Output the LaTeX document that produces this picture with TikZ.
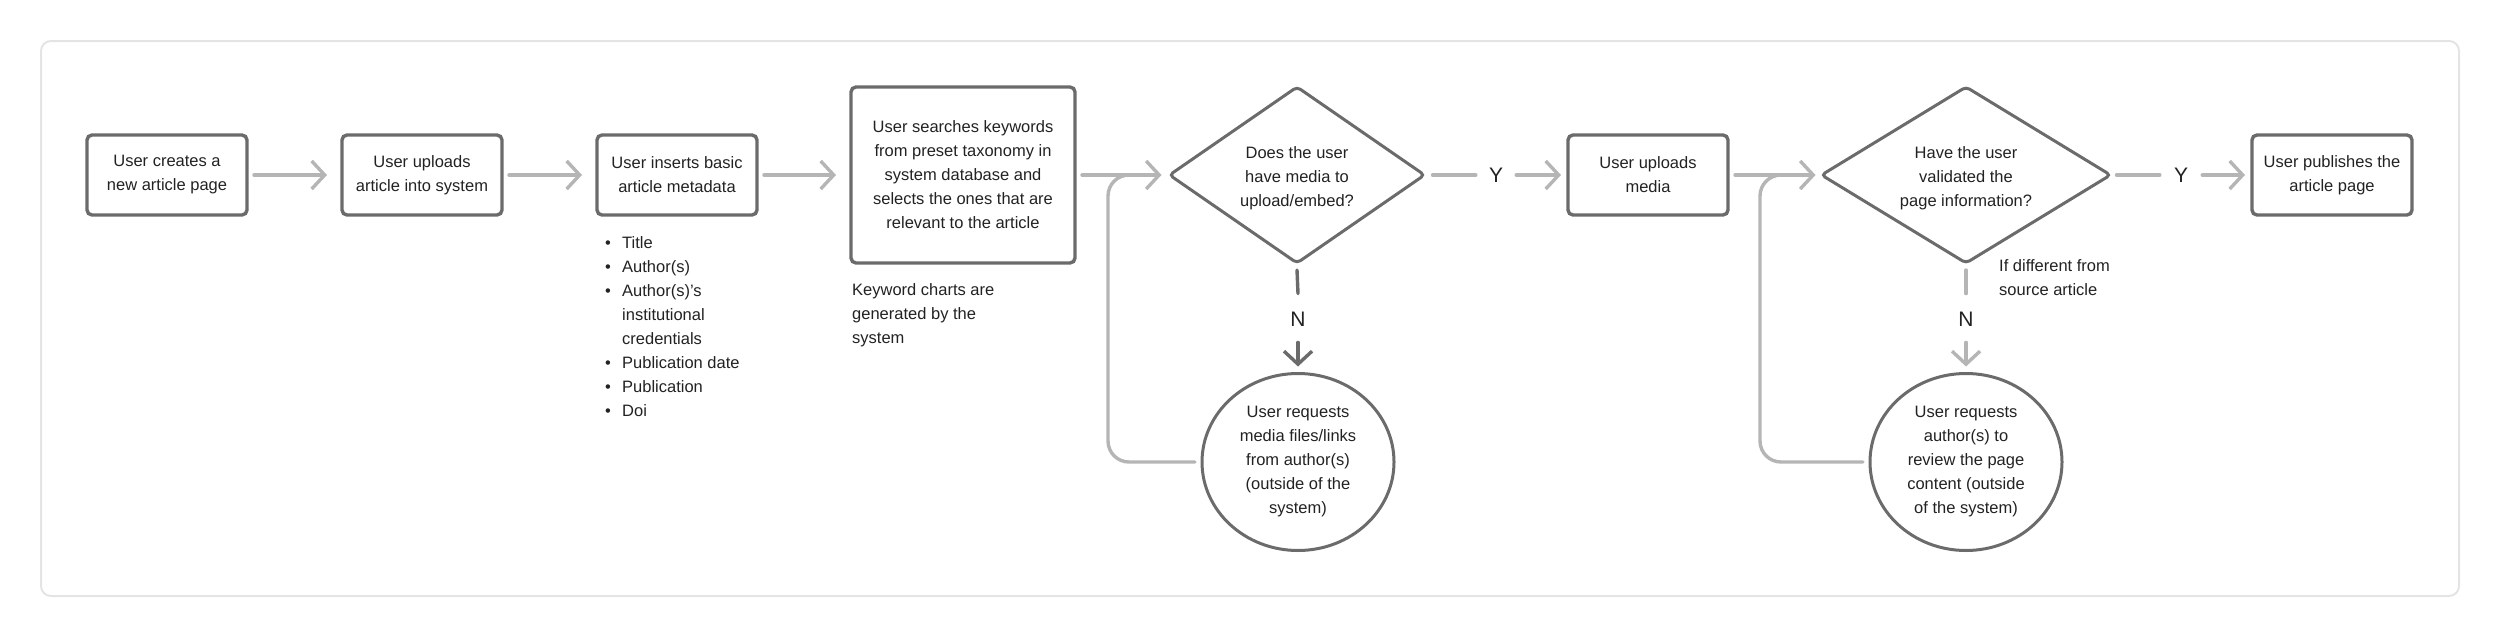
\documentclass[tikz,border=0pt]{standalone}
\usepackage{fontspec}
\setmainfont{Liberation Sans}
\usetikzlibrary{shapes.geometric,arrows.meta,calc}
\definecolor{edgecol}{HTML}{6B6B6B}
\definecolor{conncol}{HTML}{B5B5B5}
\definecolor{framecol}{HTML}{E4E4E4}
\definecolor{ink}{HTML}{222222}
\newcommand\mybul{\makebox[17pt][l]{\textbullet}}
\newcommand\myind{\hspace*{17pt}}
\begin{document}
\begin{tikzpicture}[x=1pt,y=-1pt,
  txt/.style={font=\fontsize{16.5}{24}\selectfont, text=ink},
  stepbox/.style={txt, draw=edgecol, line width=3.4pt, rounded corners=5pt, align=center, inner sep=0pt, outer sep=0pt, minimum width=160pt, minimum height=80pt},
  decision/.style={draw=edgecol, line width=3pt, diamond, rounded corners=4pt, inner sep=0pt, outer sep=0pt, minimum height=176pt},
  dtext/.style={txt, align=center, inner sep=0pt},
  oval/.style={txt, draw=edgecol, line width=3pt, ellipse, align=center, inner sep=0pt, outer sep=0pt, minimum width=192pt, minimum height=177pt},
  link/.style={draw=conncol, line width=3.4pt, line cap=round},
  arr/.style={link, -{Straight Barb[length=13pt,width=28pt]}},
  yn/.style={font=\fontsize{21}{24}\selectfont, text=ink, inner sep=0pt},
  note/.style={txt, align=left, inner sep=0pt, anchor=base west}
]
\useasboundingbox (0,0) rectangle (2500,637);
\draw[framecol, line width=2pt, rounded corners=10pt] (41,41) rectangle (2459,596);

% process boxes
\node[stepbox] (b1) at (167,175) {User creates a\\new article page};
\node[stepbox] (b2) at (422,175) {User uploads\\article into system};
\node[stepbox] (b3) at (677,175) {User inserts basic\\article metadata};
\node[stepbox, minimum width=224pt, minimum height=176pt] (b4) at (963,175) {User searches keywords\\from preset taxonomy in\\system database and\\selects the ones that are\\relevant to the article};
\node[decision, minimum width=255pt] (d1) at (1297,175) {};
\node[dtext] (d1t) at ($(d1.center)+(0,3)$) {Does the user\\have media to\\upload/embed?};
\node[stepbox] (b5) at (1648,175) {User uploads\\media};
\node[decision, minimum width=289pt] (d2) at (1966,175) {};
\node[dtext] (d2t) at ($(d2.center)+(0,3)$) {Have the user\\validated the\\page information?};
\node[stepbox] (b6) at (2332,175) {User publishes the\\article page};
\node[oval] (c1) at (1298,462) {User requests\\media files/links\\from author(s)\\(outside of the\\system)};
\node[oval] (c2) at (1966,462) {User requests\\author(s) to\\review the page\\content (outside\\of the system)};

% notes (base anchor = baseline of last line)
\node[note] (meta) at (605,416) {\mybul Title\\\mybul Author(s)\\\mybul Author(s)’s\\\myind institutional\\\myind credentials\\\mybul Publication date\\\mybul Publication\\\mybul Doi};
\node[note] (kw) at (852,343) {Keyword charts are\\generated by the\\system};
\node[note] (df) at (1999,295) {If different from\\source article};

% Y / N labels
\node[yn] (y1) at (1496,175) {Y};
\node[yn] (y2) at (2181,175) {Y};
\node[yn] (n1) at (1298,319) {N};
\node[yn] (n2) at (1966,319) {N};

% connectors
\draw[arr] ($(b1.east)+(7,0)$) -- ($(b2.west)+(-15,0)$);
\draw[arr] ($(b2.east)+(7,0)$) -- ($(b3.west)+(-15,0)$);
\draw[arr] ($(b3.east)+(7,0)$) -- ($(b4.west)+(-15,0)$);
\draw[arr] ($(b4.east)+(7,0)$) -- ($(d1.west)+(-8,0)$);
\draw[link] ($(d1.east)+(8,0)$) -- ($(y1.west)+(-13,0)$);
\draw[arr] ($(y1.east)+(13,0)$) -- ($(b5.west)+(-7,0)$);
\draw[arr] ($(b5.east)+(7,0)$) -- ($(d2.west)+(-6,0)$);
\draw[link] ($(d2.east)+(6,0)$) -- ($(y2.west)+(-14,0)$);
\draw[arr] ($(y2.east)+(14,0)$) -- ($(b6.west)+(-7,0)$);

\draw[link, draw=edgecol] ($(d1.south)+(0,7)$) -- ($(n1.north)+(0,-18)$);
\draw[arr, draw=edgecol] ($(n1.south)+(0,16)$) -- ($(c1.north)+(0,-7)$);
\draw[link] ($(d2.south)+(0,7)$) -- ($(n2.north)+(0,-18)$);
\draw[arr] ($(n2.south)+(0,16)$) -- ($(c2.north)+(0,-7)$);

% loops back
\coordinate (m1) at (1138,175);
\coordinate (m2) at (1790,175);
\draw[link, rounded corners=21pt] ($(c1.west)+(-7,0)$) -- (1108,462) -- (1108,175) -- (m1);
\draw[link, rounded corners=21pt] ($(c2.west)+(-7,0)$) -- (1760,462) -- (1760,175) -- (m2);
\end{tikzpicture}
\end{document}
